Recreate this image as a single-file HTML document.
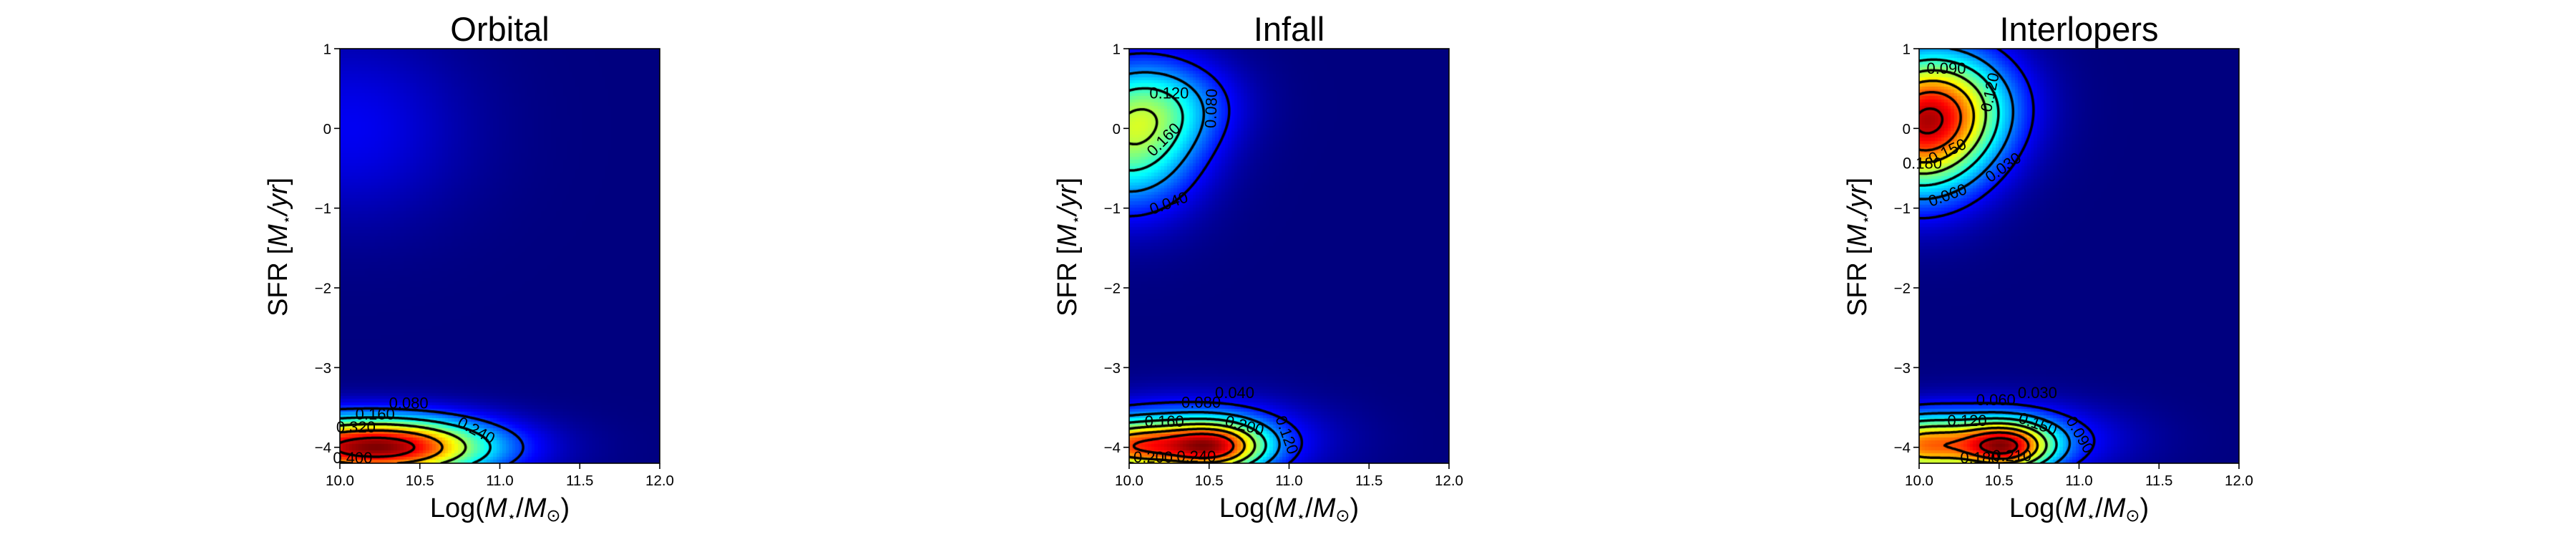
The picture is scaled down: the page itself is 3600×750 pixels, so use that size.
<!DOCTYPE html>
<html><head><meta charset="utf-8">
<style>
html,body{margin:0;padding:0;background:#fff;}
#wrap{position:relative;width:3600px;height:750px;overflow:hidden;background:#fff;}
canvas{position:absolute;}
svg{position:absolute;left:0;top:0;}
text{font-family:"Liberation Sans","DejaVu Sans",sans-serif;fill:#000;}
</style></head>
<body>
<div id="wrap">
<canvas id="c0"></canvas>
<canvas id="c1"></canvas>
<canvas id="c2"></canvas>
<svg id="ov" width="3600" height="750"></svg>
</div>
<script>
// ---- data ----
const panelTitles = ["Orbital","Infall","Interlopers"];
const xTicks = [10.0,10.5,11.0,11.5,12.0];
const xTickLabels = ["10.0","10.5","11.0","11.5","12.0"];
const yTicks = [1,0,-1,-2,-3,-4];
const yTickLabels = ["1","0","\u22121","\u22122","\u22123","\u22124"];
const xDomain = [10.0,12.0];
const yDomain = [-4.2,1.0];
// gaussian components: [x0, y0, sx, sy, amp]
const orbitalComps = [[10.0,-4.0,0.6,0.27,0.30],[10.4,-4.0,0.4,0.25,0.18],[10.05,0.0,0.5,0.8,0.05]];
const infallComps = [[10.55,-4.0,0.22,0.22,0.17],[10.0,-4.0,0.3,0.22,0.16],[10.35,-3.9,0.5,0.33,0.09],[10.0,-0.15,0.3,0.6,0.14],[10.25,0.3,0.3,0.4,0.06]];
const interloperComps = [[10.0,0.0,0.3,0.6,0.17],[10.25,0.3,0.3,0.5,0.07],[10.55,-4.0,0.2,0.22,0.15],[10.0,-4.0,0.25,0.25,0.12],[10.4,-3.9,0.5,0.3,0.07]];
const orbitalLevels = [0.08,0.16,0.24,0.32,0.40];
const infallLevels = [0.04,0.08,0.12,0.16,0.20,0.24];
const interloperLevels = [0.03,0.06,0.09,0.12,0.15,0.18,0.21];
// contour labels: [text, x, y, rotation deg]
const orbitalLabels = [["0.080",10.43,-3.46,0],["0.160",10.22,-3.6,0],["0.320",10.1,-3.76,0],["0.240",10.85,-3.8,28],["0.400",10.08,-4.15,0]];
const infallLabels = [["0.120",10.25,0.43,0],["0.160",10.22,-0.15,-45],["0.080",10.52,0.25,-88],["0.040",10.25,-0.95,-20],["0.040",10.66,-3.33,0],["0.080",10.45,-3.45,0],["0.160",10.22,-3.69,0],["0.200",10.72,-3.74,15],["0.120",10.98,-3.85,70],["0.200",10.15,-4.14,0],["0.240",10.42,-4.13,0]];
const interloperLabels = [["0.090",10.17,0.74,0],["0.120",10.45,0.45,-78],["0.150",10.18,-0.3,-25],["0.180",10.02,-0.45,0],["0.060",10.18,-0.85,-20],["0.030",10.53,-0.5,-35],["0.030",10.74,-3.33,0],["0.060",10.48,-3.42,0],["0.120",10.3,-3.68,0],["0.150",10.74,-3.72,20],["0.090",11.0,-3.85,60],["0.210",10.58,-4.12,0],["0.180",10.38,-4.15,0]];

const panels = [
 {left:475, comps:orbitalComps, levels:orbitalLevels, labels:orbitalLabels},
 {left:1578, comps:infallComps, levels:infallLevels, labels:infallLabels},
 {left:2682, comps:interloperComps, levels:interloperLevels, labels:interloperLabels}
];
const PW=447, PT=68, PH=579;
const NS="http://www.w3.org/2000/svg";
const ov=document.getElementById('ov');
function el(tag,attrs,txt){const e=document.createElementNS(NS,tag);for(const k in attrs)e.setAttribute(k,attrs[k]);if(txt!==undefined)e.textContent=txt;ov.appendChild(e);return e;}
function jet(v){v=Math.max(0,Math.min(1,v));
 const r=Math.max(0,Math.min(1,1.5-Math.abs(4*v-3)));
 const g=Math.max(0,Math.min(1,1.5-Math.abs(4*v-2)));
 const b=Math.max(0,Math.min(1,1.5-Math.abs(4*v-1)));
 return [r*255,g*255,b*255];}
function field(comps,x,y){let s=0;for(const c of comps){const dx=(x-c[0])/c[2],dy=(y-c[1])/c[3];s+=c[4]*Math.exp(-0.5*(dx*dx+dy*dy));}return s;}

panels.forEach((p,pi)=>{
 const xs=v=>p.left+(v-xDomain[0])/(xDomain[1]-xDomain[0])*PW;
 const ys=v=>PT+(yDomain[1]-v)/(yDomain[1]-yDomain[0])*PH;
 const cv=document.getElementById('c'+pi);
 cv.width=PW;cv.height=PH;cv.style.left=p.left+'px';cv.style.top=PT+'px';
 const ctx=cv.getContext('2d');
 const NX=100,NY=130;
 let vmax=0;const grid=[];
 for(let j=0;j<NY;j++){grid[j]=[];for(let i=0;i<NX;i++){const x=xDomain[0]+(i+0.5)/NX*(xDomain[1]-xDomain[0]);const y=yDomain[1]-(j+0.5)/NY*(yDomain[1]-yDomain[0]);const v=field(p.comps,x,y);grid[j][i]=v;if(v>vmax)vmax=v;}}
 for(let j=0;j<NY;j++)for(let i=0;i<NX;i++){const c=jet(grid[j][i]/vmax);ctx.fillStyle=`rgb(${c[0]|0},${c[1]|0},${c[2]|0})`;
  const x0=Math.floor(i*PW/NX),x1=Math.floor((i+1)*PW/NX),y0=Math.floor(j*PH/NY),y1=Math.floor((j+1)*PH/NY);ctx.fillRect(x0,y0,x1-x0+1,y1-y0+1);}
 const MX=220,MY=280;const F=[];
 for(let j=0;j<=MY;j++){F[j]=[];for(let i=0;i<=MX;i++){const x=xDomain[0]+i/MX*(xDomain[1]-xDomain[0]);const y=yDomain[1]-j/MY*(yDomain[1]-yDomain[0]);F[j][i]=field(p.comps,x,y);}}
 ctx.strokeStyle='#000';ctx.lineWidth=3.5;ctx.lineCap='round';
 const dx=PW/MX,dy=PH/MY;
 p.levels.forEach(L=>{ctx.beginPath();
  for(let j=0;j<MY;j++)for(let i=0;i<MX;i++){
   const a=F[j][i],b=F[j][i+1],c=F[j+1][i+1],d=F[j+1][i];
   const pts=[];
   const ip=(v1,v2)=>(L-v1)/(v2-v1);
   if((a>L)!==(b>L))pts.push([(i+ip(a,b))*dx,j*dy]);
   if((b>L)!==(c>L))pts.push([(i+1)*dx,(j+ip(b,c))*dy]);
   if((d>L)!==(c>L))pts.push([(i+ip(d,c))*dx,(j+1)*dy]);
   if((a>L)!==(d>L))pts.push([i*dx,(j+ip(a,d))*dy]);
   for(let k=0;k+1<pts.length;k+=2){ctx.moveTo(pts[k][0],pts[k][1]);ctx.lineTo(pts[k+1][0],pts[k+1][1]);}
  }ctx.stroke();});
 p.labels.forEach(l=>{const t=el('text',{x:xs(l[1]),y:ys(l[2]),'font-size':22,'text-anchor':'middle','dominant-baseline':'middle',transform:`rotate(${l[3]} ${xs(l[1])} ${ys(l[2])})`},l[0]);
  
  });
 const fr=el('rect',{x:p.left,y:PT,width:PW,height:PH,fill:'none',stroke:'#000','stroke-width':1.6});
 
 xTicks.forEach((t,k)=>{const x=xs(t);el('line',{x1:x,x2:x,y1:PT+PH,y2:PT+PH+8,stroke:'#000','stroke-width':1.6});
  const tl=el('text',{x:x,y:678,'font-size':20.5,'text-anchor':'middle'},xTickLabels[k]);
  });
 yTicks.forEach((t,k)=>{const y=ys(t);el('line',{x1:p.left-8,x2:p.left,y1:y,y2:y,stroke:'#000','stroke-width':1.6});
  const tl=el('text',{x:p.left-12,y:y+7.5,'font-size':20.5,'text-anchor':'end'},yTickLabels[k]);
  });
 const ti=el('text',{x:p.left+PW/2,y:57,'font-size':47,'text-anchor':'middle'},panelTitles[pi]);
 
 const xl=el('text',{x:p.left+PW/2,y:722,'font-size':38,'text-anchor':'middle'});
 
 xl.innerHTML='Log(<tspan font-style="italic">M</tspan><tspan font-size="20" dy="6">\u22c6</tspan><tspan dy="-6">/</tspan><tspan font-style="italic">M</tspan><tspan font-size="24" dy="6">\u2299</tspan><tspan dy="-6">)</tspan>';
 const yx=p.left-74, yy=345;
 const yl=el('text',{x:yx,y:yy,'font-size':38,'text-anchor':'middle',transform:`rotate(-90 ${yx} ${yy})`});
 
 yl.innerHTML='SFR [<tspan font-style="italic">M</tspan><tspan font-size="20" dy="6">\u22c6</tspan><tspan dy="-6" font-style="italic">/yr</tspan>]';
});
</script>
</body></html>
